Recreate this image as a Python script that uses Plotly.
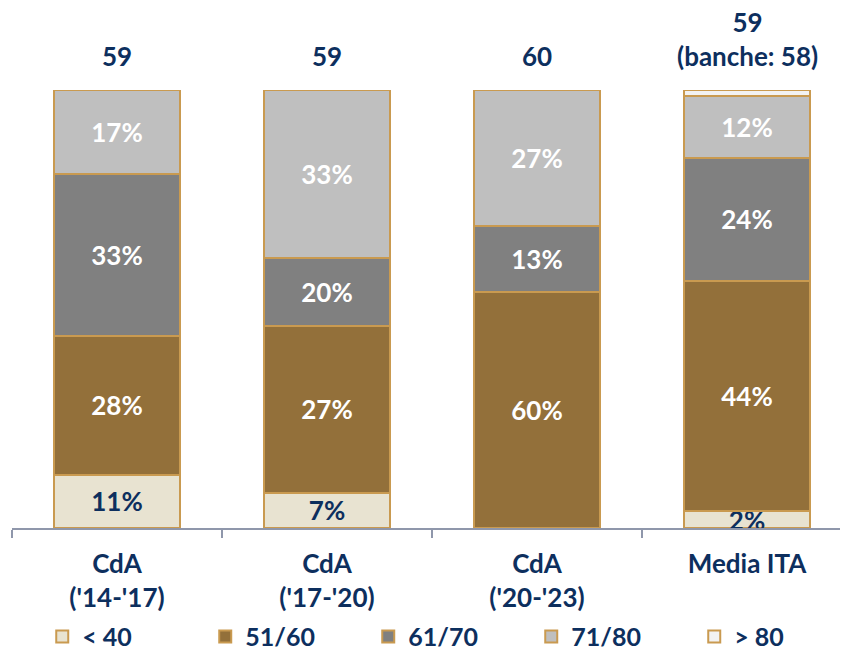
import plotly.graph_objects as go

# ---- data ----
categories = ["CdA<br>('14-'17)", "CdA<br>('17-'20)", "CdA<br>('20-'23)", "Media ITA"]
totals = ["59", "59", "60", "59<br>(banche: 58)"]

series_names = ["< 40", "51/60", "61/70", "71/80", "> 80"]
# segment heights (share of each bar)
h_lt40 = [12.2, 8.0, 0.0, 3.8]
h_51_60 = [31.6, 38.2, 53.9, 52.6]
h_61_70 = [37.1, 15.4, 15.1, 28.1]
h_71_80 = [19.2, 38.4, 31.0, 14.1]
h_gt80 = [0.0, 0.0, 0.0, 1.4]
# printed labels
l_lt40 = ["11%", "7%", "", "2%"]
l_51_60 = ["28%", "27%", "60%", "44%"]
l_61_70 = ["33%", "20%", "13%", "24%"]
l_71_80 = ["17%", "33%", "27%", "12%"]
l_gt80 = ["", "", "", ""]

NAVY = "#0D2F5E"
GOLD = "#C99A50"
FONT = "Lato"

heights = [h_lt40, h_51_60, h_61_70, h_71_80, h_gt80]
labels = [l_lt40, l_51_60, l_61_70, l_71_80, l_gt80]
fills = ["#E8E3D1", "#93703A", "#808080", "#BFBFBF", "#F2F2F2"]
txtcol = [NAVY, "white", "white", "white", NAVY]

fig = go.Figure()
for name, h, lab, fc, tc in zip(series_names, heights, labels, fills, txtcol):
    fig.add_trace(go.Bar(
        x=categories, y=h, name=name, text=lab,
        textposition="inside", insidetextanchor="middle", textangle=0,
        constraintext="none",
        textfont=dict(family=FONT, size=26, color=tc, weight="bold"),
        marker=dict(color=fc, line=dict(color=GOLD, width=2)),
        width=0.6, hoverinfo="skip",
    ))

for c, t in zip(categories, totals):
    fig.add_annotation(x=c, y=100, text=t, showarrow=False, yanchor="bottom",
                       yshift=16, font=dict(family=FONT, size=26, color=NAVY, weight="bold"))

fig.update_layout(
    width=848, height=648,
    margin=dict(l=4, r=4, t=82, b=128, autoexpand=False),
    paper_bgcolor="white", plot_bgcolor="white",
    barmode="stack", bargap=0.4,
    showlegend=True,
    legend=dict(orientation="h", x=0.036, xanchor="left", y=-0.196, yanchor="top",
                traceorder="normal", entrywidth=118, entrywidthmode="pixels",
                font=dict(family=FONT, size=25, color=NAVY, weight="bold")),
    xaxis=dict(type="category", showline=True, linecolor="#8F97AB", linewidth=2,
               ticks="outside", tickson="boundaries", ticklen=8, tickwidth=2,
               tickcolor="#8F97AB", showgrid=False, ticklabelstandoff=12,
               tickfont=dict(family=FONT, size=26, color=NAVY, weight="bold")),
    yaxis=dict(range=[0, 100], visible=False, showgrid=False),
)

fig.write_html("out.html")
